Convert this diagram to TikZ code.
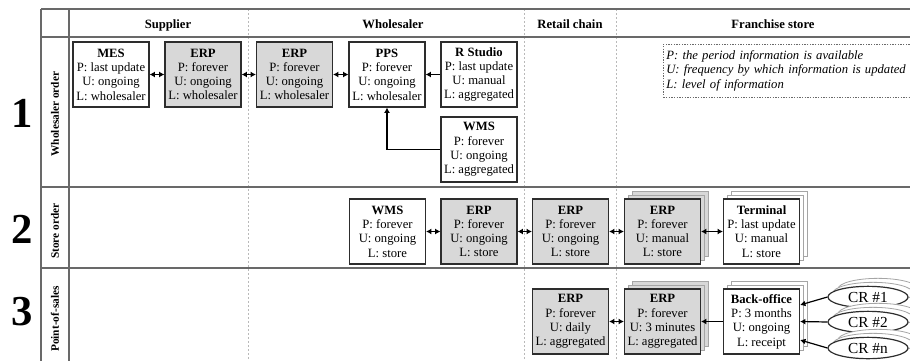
\documentclass[tikz,border=0pt]{standalone}
\usepackage{fontspec}
\setmainfont{Liberation Serif}
\usetikzlibrary{arrows.meta,shapes.geometric}

\definecolor{gridgray}{RGB}{105,105,105}
\definecolor{sepgray}{RGB}{185,185,185}
\definecolor{erpfill}{RGB}{216,216,216}
\definecolor{copygray}{RGB}{165,165,165}
\definecolor{boxline}{RGB}{45,45,45}

\newcommand{\sysdata}[4]{\textbf{#1}\\P: #2\\U: #3\\L: #4}

\tikzset{every picture/.style={line width=0.75pt}}
\tikzset{
  gridline/.style={draw=gridgray, line width=1.1pt},
  sepline/.style={draw=sepgray, line width=0.6pt, dash pattern=on 1.5pt off 1.5pt},
  sysbox/.style={draw=boxline, fill=white, line width=0.9pt, minimum width=57pt, minimum height=48.75pt,
    inner sep=1pt, align=center, font=\fontsize{9.5}{10.7}\selectfont},
  erpbox/.style={sysbox, fill=erpfill},
  copybox/.style={draw=copygray, fill=white, line width=0.6pt, minimum width=57pt, minimum height=48.75pt, inner sep=0pt},
  erpcopy/.style={copybox, fill=erpfill},
  crnode/.style={ellipse, draw=boxline, fill=white, line width=0.9pt, minimum width=60pt, minimum height=16pt,
    inner sep=0pt, font=\fontsize{11.5}{13}\selectfont},
  crcopy/.style={ellipse, draw=copygray, fill=white, line width=0.6pt, minimum width=60pt, minimum height=16pt, inner sep=0pt},
  colhead/.style={anchor=base, font=\bfseries\fontsize{9.5}{11}\selectfont},
  rowlabel/.style={rotate=90, font=\bfseries\fontsize{8.5}{10}\selectfont},
  rownum/.style={font=\bfseries\fontsize{32}{32}\selectfont},
  legendbox/.style={draw=gridgray, line width=0.5pt, dash pattern=on 1pt off 1pt, anchor=north west,
    text width=185pt, minimum height=39.75pt, inner xsep=2.25pt, align=left,
    font=\itshape\fontsize{9.5}{10.6}\selectfont},
  link/.style={draw=black, line width=1pt, {Latex[length=4pt,width=4.5pt]}-{Latex[length=4pt,width=4.5pt]}},
  feed/.style={draw=black, line width=0.9pt, -{Latex[length=4pt,width=4.5pt]}}
}

\begin{document}
\begin{tikzpicture}[x=0.75pt,y=0.75pt,yscale=-1,xscale=1]
\useasboundingbox (0,0) rectangle (910,361);

%Table: dotted column separators
\draw [sepline] (248,9) -- (248,361) ;
\draw [sepline] (524,9) -- (524,361) ;
\draw [sepline] (616,9) -- (616,361) ;
%Table: grid lines
\draw [gridline] (41,9) -- (910,9) ;
\draw [gridline] (41,37) -- (910,37) ;
\draw [gridline] (41,187) -- (910,187) ;
\draw [gridline] (41,268) -- (910,268) ;
\draw [gridline] (41,9) -- (41,361) ;
\draw [gridline] (69,9) -- (69,361) ;

% Column headers
\node [colhead] (hsupplier) at (168,28) {Supplier};
\node [colhead] (hwholesaler) at (393,28) {Wholesaler};
\node [colhead] (hretail) at (570,28) {Retail chain};
\node [colhead] (hfranchise) at (773,28) {Franchise store};

% Row numbers and labels
\node [rownum] (num1) at (22,113) {1};
\node [rownum] (num2) at (22,229) {2};
\node [rownum] (num3) at (22,312) {3};
\node [rowlabel] (lab1) at (55,114) {Wholesaler order};
\node [rowlabel] (lab2) at (55,231) {Store order};
\node [rowlabel] (lab3) at (55,319) {Point-of-sales};

% Legend
\node [legendbox] (legend) at (663,44) {P: the period information is available\\U: frequency by which information is updated\\L: level of information};

%Row 1: wholesaler order
\node [sysbox] (mes) at (111,74.5) {\sysdata{MES}{last update}{ongoing}{wholesaler}};
\node [erpbox] (erpsup) at (203,74.5) {\sysdata{ERP}{forever}{ongoing}{wholesaler}};
\node [erpbox] (erpwhl) at (294.5,74.5) {\sysdata{ERP}{forever}{ongoing}{wholesaler}};
\node [sysbox] (pps) at (387,74.5) {\sysdata{PPS}{forever}{ongoing}{wholesaler}};
\node [sysbox] (rstudio) at (479,74.5) {\sysdata{R Studio}{last update}{manual}{aggregated}};
\node [sysbox] (wmsone) at (479,149.5) {\sysdata{WMS}{forever}{ongoing}{aggregated}};

\draw [link] (mes) -- (erpsup) ;
\draw [link] (erpsup) -- (erpwhl) ;
\draw [link] (erpwhl) -- (pps) ;
\draw [feed] (rstudio) -- (pps) ;
\draw [feed] (wmsone.west) -| (pps.south) ;

%Row 2: store order
\node [sysbox] (wmstwo) at (387.5,231.5) {\sysdata{WMS}{forever}{ongoing}{store}};
\node [erpbox] (erpwhltwo) at (479,231.5) {\sysdata{ERP}{forever}{ongoing}{store}};
\node [erpbox] (erpret) at (570.5,231.5) {\sysdata{ERP}{forever}{ongoing}{store}};
%Shape: stacked copies
\node [erpcopy] (erpfrcopyb) at (670.5,223.5) {};
\node [erpcopy] (erpfrcopya) at (666.5,227.5) {};
\node [erpbox] (erpfr) at (662.5,231.5) {\sysdata{ERP}{forever}{manual}{store}};
\node [copybox] (termcopyb) at (769.5,223.5) {};
\node [copybox] (termcopya) at (765.5,227.5) {};
\node [sysbox] (terminal) at (761.5,231.5) {\sysdata{Terminal}{last update}{manual}{store}};

\draw [link] (wmstwo) -- (erpwhltwo) ;
\draw [link] (erpwhltwo) -- (erpret) ;
\draw [link] (erpret) -- (erpfr) ;
\draw [link] (erpfr) -- (terminal) ;

%Row 3: point-of-sales
\node [erpbox] (erpretpos) at (570.5,321.5) {\sysdata{ERP}{forever}{daily}{aggregated}};
\node [erpcopy] (erpposcopyb) at (670.5,313.5) {};
\node [erpcopy] (erpposcopya) at (666.5,317.5) {};
\node [erpbox] (erppos) at (662.5,321.5) {\sysdata{ERP}{forever}{3 minutes}{aggregated}};
\node [copybox] (backcopyb) at (769.5,313.5) {};
\node [copybox] (backcopya) at (765.5,317.5) {};
\node [sysbox] (backoffice) at (761.5,321.5) {\sysdata{Back-office}{3 months}{ongoing}{receipt}};

%Shape: cash registers
\node [crcopy] (croneb) at (878,289) {};
\node [crcopy] (cronea) at (873,293) {};
\node [crnode] (crone) at (868,297) {CR \#1};
\node [crcopy] (crtwob) at (878,314) {};
\node [crcopy] (crtwoa) at (873,318) {};
\node [crnode] (crtwo) at (868,322) {CR \#2};
\node [crcopy] (crnb) at (878,340) {};
\node [crcopy] (crna) at (873,344) {};
\node [crnode] (crn) at (868,348) {CR \#n};

\draw [link] (erpretpos) -- (erppos) ;
\draw [feed] (backoffice) -- (erppos) ;
\draw [feed] (crone.west) -- ([yshift=-12.4pt]backoffice.east) ;
\draw [feed] (crtwo.west) -- (backoffice.east) ;
\draw [feed] (crn.west) -- ([yshift=13.9pt]backoffice.east) ;

\end{tikzpicture}
\end{document}
